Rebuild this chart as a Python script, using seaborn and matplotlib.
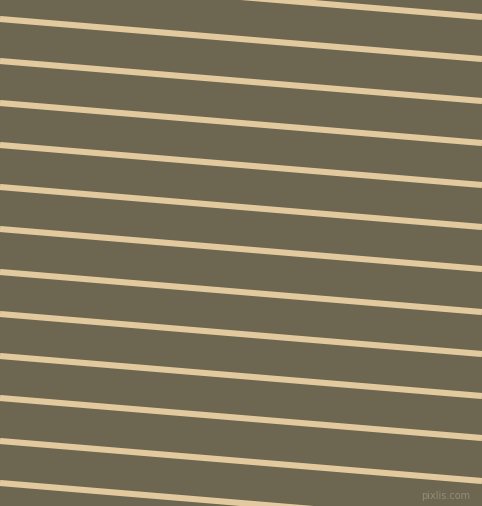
import matplotlib
matplotlib.use("Agg")
import matplotlib.pyplot as plt
import seaborn as sns
import numpy as np
import pandas as pd

# stripe positions (y at the left and right edge, pixels from top)
left_y = [-23, 19, 61, 103, 145, 187, 229, 272, 314, 356, 398, 441, 483]
right_y = [17, 59, 101, 143, 185, 227, 269, 312, 354, 396, 438, 481, 523]
edge_x = [0, 482]

BG = "#6d6651"
STRIPE = "#e3c99e"

W, H, PAD = 482, 506, 60

rows = []
for i, (yl, yr) in enumerate(zip(left_y, right_y)):
    rows.append({"stripe": i, "x": edge_x[0], "y": yl})
    rows.append({"stripe": i, "x": edge_x[1], "y": yr})
df = pd.DataFrame(rows)

sns.set_theme(style="white")
# draw on a larger canvas so Agg does not cut stripes that cross the top/bottom edge,
# then crop back to the plot area
fig = plt.figure(figsize=((W + 2 * PAD) / 100, (H + 2 * PAD) / 100), dpi=100)
ax = fig.add_axes([PAD / (W + 2 * PAD), PAD / (H + 2 * PAD),
                   W / (W + 2 * PAD), H / (H + 2 * PAD)])
ax.set_facecolor(BG)
fig.patch.set_facecolor(BG)

sns.lineplot(data=df, x="x", y="y", units="stripe", estimator=None,
             color=STRIPE, linewidth=4.4, ax=ax, legend=False,
             solid_capstyle="butt")

ax.set_xlim(0, W)
ax.set_ylim(H, 0)
ax.axis("off")

ax.text(470, 499, "pixlis.com", color="#948c78", fontsize=7,
        ha="right", va="baseline")

fig.canvas.draw()
img = np.asarray(fig.canvas.buffer_rgba())
crop = img[PAD:PAD + H, PAD:PAD + W, :3].copy()
plt.imsave("out.png", crop)
